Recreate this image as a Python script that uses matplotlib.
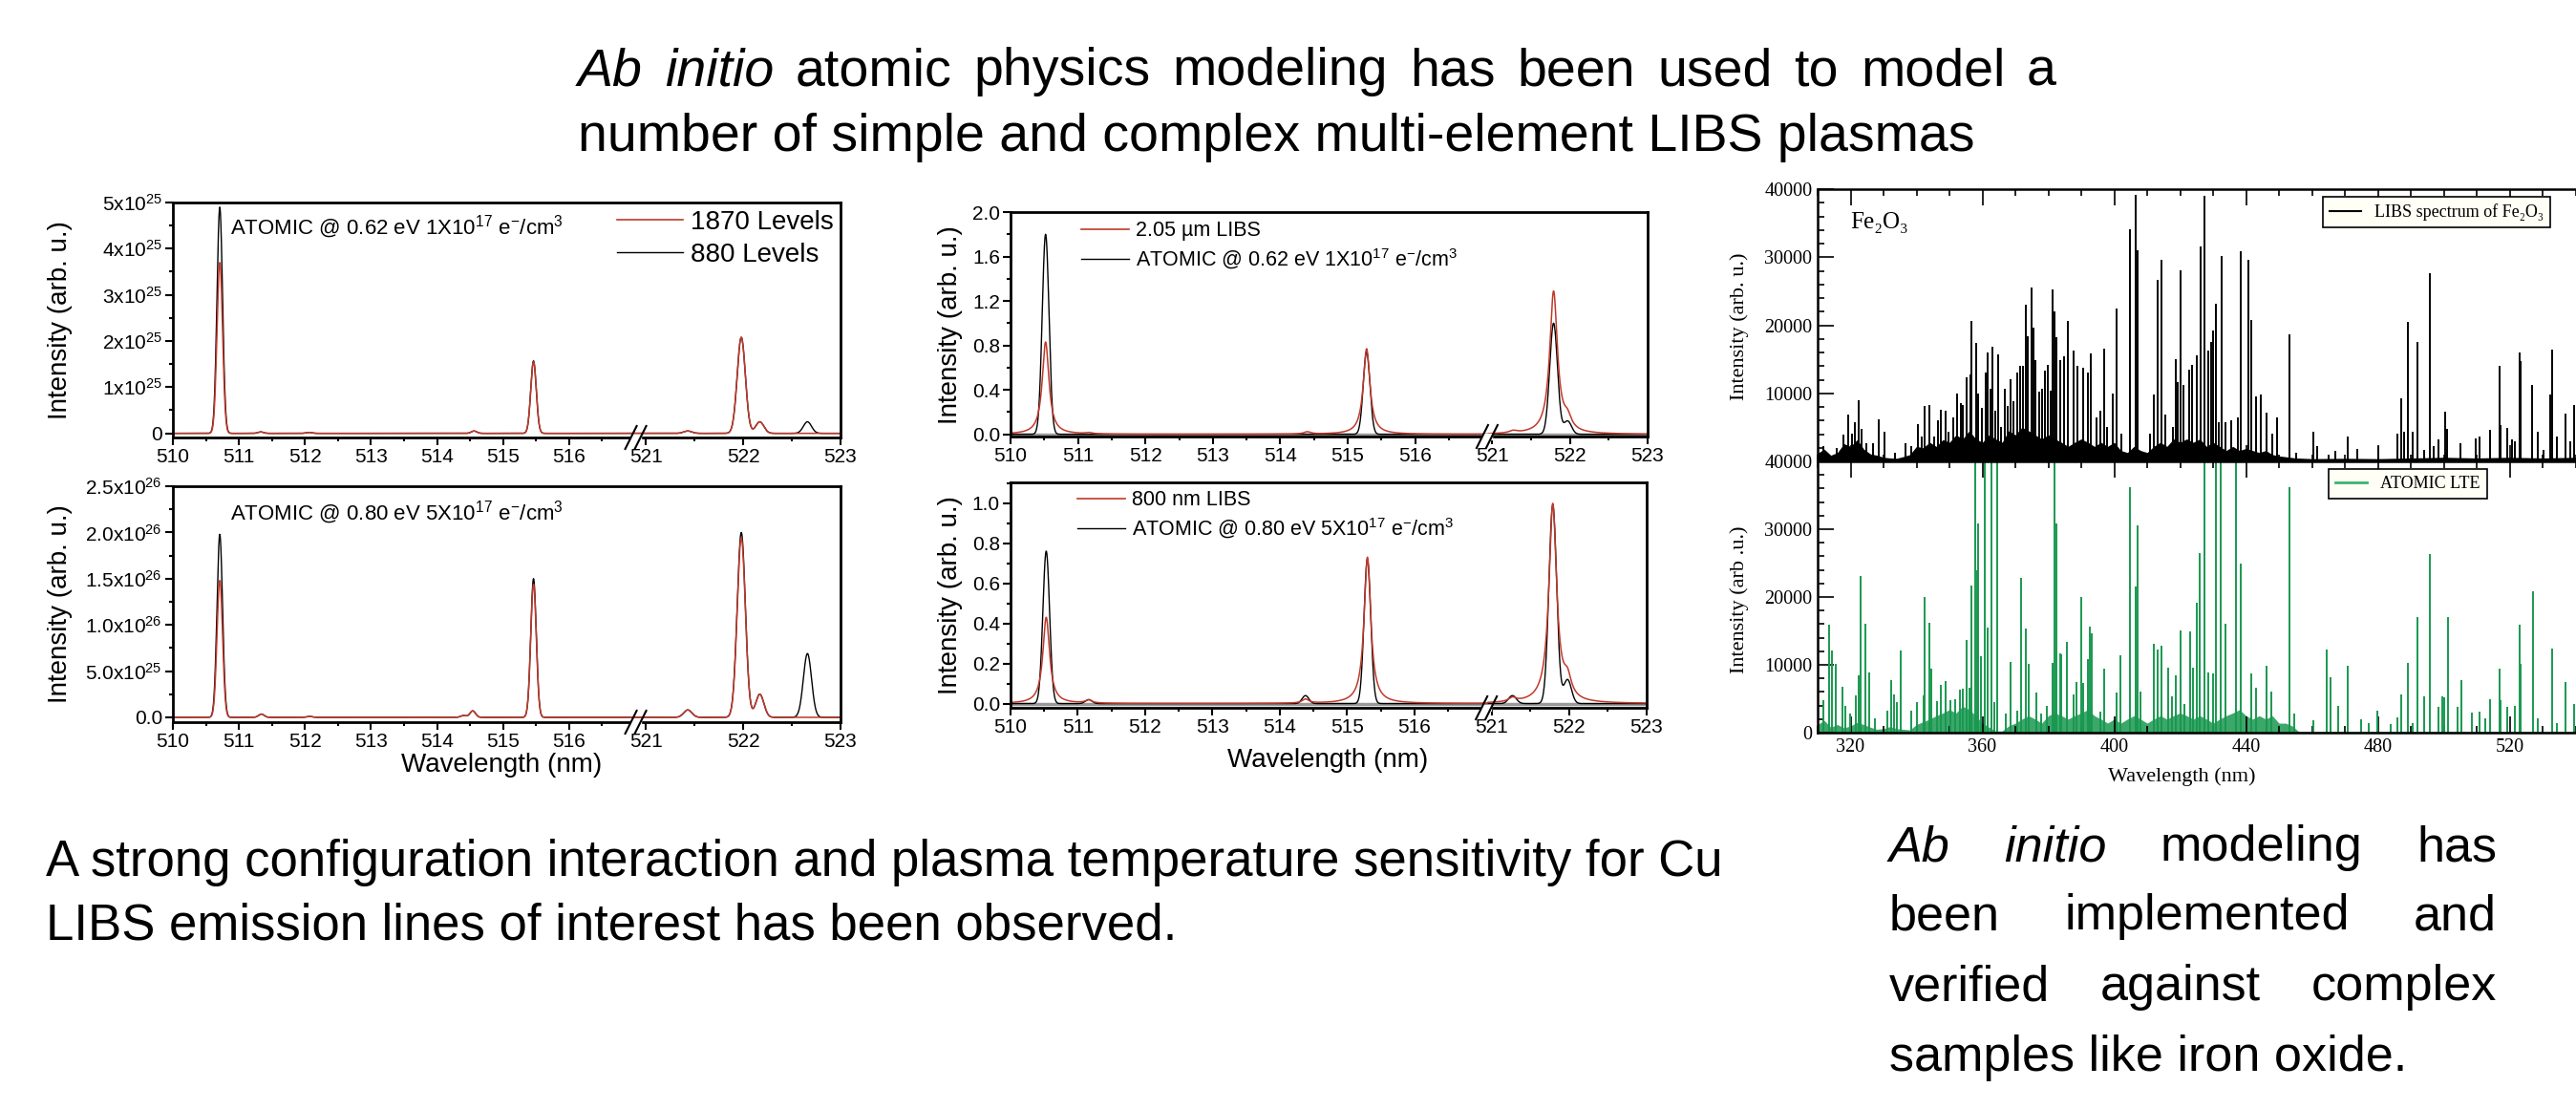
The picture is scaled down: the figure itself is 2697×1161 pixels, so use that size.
import numpy as np
import matplotlib
matplotlib.use("Agg")
import matplotlib.pyplot as plt
from matplotlib.lines import Line2D
from matplotlib.patches import Rectangle
from matplotlib.ticker import FixedLocator, MultipleLocator

plt.rcParams['font.family'] = ['Liberation Sans', 'DejaVu Sans']
plt.rcParams['mathtext.fontset'] = 'custom'
plt.rcParams['mathtext.rm'] = 'Liberation Sans'
plt.rcParams['mathtext.it'] = 'Liberation Sans:italic'
plt.rcParams['mathtext.default'] = 'regular'

# ---------------- data: Cu LIBS lines (peak centre nm, peak height) ----------------
# top-left, ATOMIC @ 0.62 eV, heights in 1e25
tl_wl = [510.71, 511.33, 512.06, 514.56, 515.46, 521.43, 521.98, 522.17, 522.66]
tl_1870 = [3.70, 0.03, 0.02, 0.05, 1.55, 0.05, 2.08, 0.25, 0.0]
tl_880 = [4.90, 0.03, 0.02, 0.05, 1.57, 0.05, 2.08, 0.25, 0.25]

# bottom-left, ATOMIC @ 0.80 eV, heights in 1e26
bl_wl = [510.71, 511.34, 512.07, 514.40, 514.54, 515.46, 521.43, 521.98, 522.17, 522.66]
bl_1870 = [1.48, 0.035, 0.01, 0.02, 0.07, 1.44, 0.08, 1.94, 0.25, 0.0]
bl_880 = [1.98, 0.035, 0.01, 0.02, 0.07, 1.50, 0.08, 2.00, 0.25, 0.69]

# top-middle, 2.05 um LIBS vs ATOMIC
mt_wl = [510.52, 511.16, 514.40, 515.28, 521.27, 521.79, 521.97]
mt_libs = [0.83, 0.01, 0.02, 0.77, 0.02, 1.28, 0.10]
mt_atom = [1.80, 0.0, 0.0, 0.74, 0.0, 1.00, 0.12]

# bottom-middle, 800 nm LIBS vs ATOMIC
mb_wl = [510.53, 511.16, 514.38, 515.30, 521.27, 521.79, 521.98]
mb_libs = [0.43, 0.015, 0.02, 0.73, 0.02, 0.99, 0.09]
mb_atom = [0.76, 0.02, 0.04, 0.72, 0.04, 0.99, 0.12]

wl_ticks = [510, 511, 512, 513, 514, 515, 516, 521, 522, 523]
wl_minor = [510.5, 511.5, 512.5, 513.5, 514.5, 515.5, 516.5, 521.5, 522.5]

# ---------------- data: Fe2O3 stick spectra (nm, counts) ----------------
libs_wl = [311.8, 315.7, 317.8, 319.3, 320.3, 321.3, 322.4, 323.4, 324.8, 326.7, 328.5, 330.3,
           333.5, 336.8, 338.3, 340.5, 341.6, 342.6, 343.8, 345.3, 346.4, 347.4, 348.7, 349.8,
           351.3, 352.4, 353.4, 354.1, 355.3, 356.3, 356.8, 358.0, 358.8, 359.9, 360.9, 361.6,
           362.6, 363.0, 364.0, 364.7, 365.7, 366.9, 367.8, 368.6, 369.5, 370.5, 371.4, 372.4,
           373.2, 373.9, 374.8, 375.6, 376.2, 377.2, 378.2, 378.9, 379.9, 380.6, 381.3, 382.0,
           382.5, 383.5, 384.7, 385.9, 387.6, 388.8, 390.5, 392.1, 392.9, 394.6, 395.8, 397.0,
           397.9, 399.7, 400.6, 402.1, 404.7, 406.4, 407.2, 410.8, 412.0, 413.2, 414.4, 415.6,
           417.8, 418.7, 419.3, 420.2, 421.1, 422.7, 423.6, 425.1, 426.2, 427.3, 428.5, 429.4,
           430.1, 430.9, 431.7, 432.6, 433.9, 435.4, 437.5, 438.5, 440.6, 441.7, 443.0, 444.6,
           446.2, 448.0, 449.4, 453.1, 455.2, 460.5, 461.5, 465.2, 467.1, 470.8, 473.7, 480.0,
           486.0, 487.2, 488.1, 489.1, 490.5, 492.0, 494.2, 495.9, 497.1, 498.5, 500.4, 501.1,
           505.0, 509.8, 510.8, 514.0, 516.9, 517.3, 519.3, 520.7, 521.7, 522.9, 523.3, 526.8,
           528.5, 530.4, 532.3, 532.8, 534.3, 537.1, 538.3, 539.6]
libs_h = [2200, 2000, 3900, 6900, 4100, 5700, 9000, 4800, 2700, 2700, 6200, 4300,
          1300, 2700, 2200, 5500, 3600, 8100, 8300, 3600, 6000, 7600, 7400, 4300,
          6400, 10000, 8600, 8300, 12300, 12800, 20700, 17400, 10000, 7900, 13000, 16000,
          10700, 16800, 7400, 15700, 5000, 10700, 8100, 12100, 8800, 13000, 14000, 14000,
          23000, 18400, 25500, 19600, 14900, 10200, 10700, 13300, 14200, 10400, 25200, 22000,
          18200, 14900, 15400, 20700, 16300, 14000, 13700, 13000, 15900, 6400, 7400, 16600,
          5000, 10000, 22400, 4100, 34100, 39200, 31000, 4100, 9800, 26600, 29600, 6900,
          5000, 15000, 11600, 28100, 11200, 13500, 14200, 15600, 31600, 39000, 16300, 17500,
          19200, 23200, 5700, 30200, 5700, 6000, 6400, 30900, 29600, 20800, 9500, 9800,
          7200, 4100, 6400, 18700, 1300, 4300, 2200, 1000, 1500, 3600, 1800, 2200,
          4100, 9300, 4300, 20500, 4300, 17600, 1700, 27600, 2200, 3200, 7300, 4800,
          2700, 3400, 3600, 4600, 14100, 5300, 4900, 3200, 2900, 16000, 14700, 11200,
          4300, 1700, 9800, 16400, 3600, 7000, 2900, 8300]

atomic_wl = [311.6, 313.6, 314.4, 315.4, 317.4, 318.4, 319.8, 321.7, 322.4, 323.0, 324.5, 325.7,
             327.5, 331.1, 332.3, 333.2, 334.1, 335.2, 338.3, 340.2, 342.3, 342.6, 343.8, 344.5,
             346.3, 347.4, 348.8, 350.3, 351.7, 353.2, 354.1, 355.3, 356.1, 356.7, 357.8, 358.3,
             358.8, 359.7, 360.7, 361.6, 362.8, 363.6, 364.5, 367.1, 368.6, 370.5, 371.7, 373.2,
             374.1, 376.3, 377.7, 379.6, 381.3, 381.8, 382.5, 383.5, 383.9, 385.7, 387.6, 388.6,
             390.0, 390.6, 391.9, 392.6, 393.2, 395.8, 397.0, 400.6, 401.8, 404.7, 406.4, 407.2,
             407.9, 412.0, 413.2, 414.4, 416.3, 417.5, 418.7, 420.2, 421.4, 423.0, 423.8, 425.1,
             426.0, 427.3, 428.5, 430.1, 430.9, 432.4, 433.9, 437.1, 438.5, 441.7, 443.0, 446.2,
             447.8, 453.3, 454.7, 460.5, 464.6, 465.7, 468.1, 470.8, 474.8, 477.2, 479.9, 484.0,
             485.9, 487.2, 489.1, 490.5, 492.0, 494.2, 495.9, 498.5, 499.5, 500.2, 501.2, 504.3,
             505.3, 508.5, 510.8, 512.5, 514.0, 516.9, 517.3, 519.3, 521.7, 522.9, 523.3, 527.0,
             528.5, 532.8, 534.3, 537.1, 539.6]
atomic_h = [4800, 15900, 12100, 10100, 6700, 4000, 2800, 5500, 8500, 23100, 16100, 8900,
            2100, 3300, 7700, 5600, 4500, 12100, 3300, 4500, 5500, 20000, 16200, 9400,
            4700, 7000, 7600, 4800, 4900, 6300, 6500, 13600, 6600, 21700, 45000, 23900,
            30800, 11300, 45000, 15500, 45000, 4500, 45000, 2800, 10400, 3300, 22800, 15400,
            10200, 5900, 2800, 4000, 10300, 45000, 30800, 11700, 11500, 13400, 5600, 7500,
            20000, 7300, 10800, 15600, 14600, 3100, 9400, 5900, 11400, 36200, 21600, 30500,
            6100, 13100, 12300, 12800, 9600, 5400, 8500, 15100, 4200, 15000, 9600, 19200,
            26500, 45000, 8900, 8800, 45000, 45000, 16100, 45000, 24900, 8800, 6600, 9900,
            6100, 36200, 2800, 1900, 12200, 8200, 4000, 9800, 2000, 1400, 3300, 1300,
            2300, 5600, 10300, 1400, 17000, 5400, 26400, 3800, 5400, 5200, 17000, 3800,
            7700, 2900, 3100, 2100, 4900, 9400, 4800, 3800, 4000, 15900, 10100, 20800,
            2100, 12400, 1400, 7500, 4200]

# dense low-level line "grass" under the sticks (envelope read every 2 nm)
libs_bg_wl = [310, 312, 314, 316, 318, 320, 322, 324, 326, 328, 330, 332, 334, 336, 338, 340,
              342, 344, 346, 348, 350, 352, 354, 356, 358, 360, 362, 364, 366, 368, 370, 372,
              374, 376, 378, 380, 382, 384, 386, 388, 390, 392, 394, 396, 398, 400, 402, 404,
              406, 408, 410, 412, 414, 416, 418, 420, 422, 424, 426, 428, 430, 432, 434, 436,
              438, 440, 442, 444, 446, 448, 450, 455, 460, 470, 480, 490, 500, 510, 520, 530, 540]
libs_bg_h = [1200, 1800, 900, 1300, 2600, 2200, 3200, 1800, 1100, 900, 600, 500, 450, 700, 1000, 2200,
             2000, 2800, 2200, 3200, 2800, 3900, 3300, 4500, 3300, 2800, 3900, 3300, 2800, 4500, 3900, 5000,
             4500, 3900, 3300, 3900, 3300, 2800, 2200, 2800, 3300, 2800, 2200, 2800, 2200, 2800, 1600, 1300,
             2200, 1600, 1300, 2200, 2800, 2200, 3300, 2800, 3300, 2800, 3300, 2200, 2800, 2200, 1600, 2200,
             1600, 1900, 1600, 1300, 1600, 1000, 800, 500, 400, 450, 400, 500, 600, 500, 600, 500, 600]
atomic_bg_wl = [310, 312, 314, 316, 318, 320, 322, 324, 326, 328, 330, 332, 334, 336, 338, 340,
                342, 344, 346, 348, 350, 352, 354, 356, 358, 360, 362, 364, 366, 368, 370, 372,
                374, 376, 378, 380, 382, 384, 386, 388, 390, 392, 394, 396, 398, 400, 402, 404,
                406, 408, 410, 412, 414, 416, 418, 420, 422, 424, 426, 428, 430, 432, 434, 436,
                438, 440, 442, 444, 446, 448, 450, 452, 454, 456, 540]
atomic_bg_h = [1200, 1800, 800, 1200, 700, 1000, 1500, 1200, 800, 500, 600, 900, 600, 500, 400, 1200,
               1600, 2000, 2500, 2900, 3400, 2900, 3900, 3400, 2500, 1400, 800, 250, 250, 1000, 1400, 2000,
               2500, 2000, 1400, 2500, 2900, 2500, 2000, 2500, 2900, 3400, 2500, 2000, 1400, 2000, 1400, 2000,
               2500, 2000, 1400, 2000, 2500, 2000, 2500, 2900, 2500, 2000, 2500, 2000, 1400, 2000, 2500, 2900,
               3400, 2500, 2000, 2500, 2000, 2500, 1400, 1400, 1000, 150, 150]

# ---------------- slide text ----------------
title_l1 = [("Ab", True), ("initio", True), ("atomic", False), ("physics", False), ("modeling", False),
            ("has", False), ("been", False), ("used", False), ("to", False), ("model", False), ("a", False)]
title_l2 = "number of simple and complex multi-element LIBS plasmas"
left_l1 = "A strong configuration interaction and plasma temperature sensitivity for Cu"
left_l2 = "LIBS emission lines of interest has been observed."
right_l1 = [("Ab", True), ("initio", True), ("modeling", False), ("has", False)]
right_l2 = [("been", False), ("implemented", False), ("and", False)]
right_l3 = [("verified", False), ("against", False), ("complex", False)]
right_l4 = "samples like iron oxide."

W, H = 2697, 1161
fig = plt.figure(figsize=(W / 100, H / 100), dpi=100)
RED = '#c0392b'
GREEN = '#1a9850'
SERIF = 'Liberation Serif'


def box(x0, y0, x1, y1):
    return [x0 / W, 1 - y1 / H, (x1 - x0) / W, (y1 - y0) / H]


def gauss(x, cs, hs, s):
    y = np.zeros_like(x)
    for c, h in zip(cs, hs):
        y += h * np.exp(-0.5 * ((x - c) / s) ** 2)
    return y


def lorentz(x, cs, hs, g):
    y = np.zeros_like(x)
    for c, h in zip(cs, hs):
        y += h * g ** 2 / ((x - c) ** 2 + g ** 2)
    return y


def cu_axes(px, kw, ku, ylim, yticks, ylabels, yminor):
    ax = fig.add_axes(box(*px))
    ax.set_xscale('function', functions=(lambda x: np.interp(x, kw, ku),
                                         lambda u: np.interp(u, ku, kw)))
    ax.set_xlim(510, 523)
    ax.set_ylim(*ylim)
    ax.xaxis.set_major_locator(FixedLocator(wl_ticks))
    ax.xaxis.set_minor_locator(FixedLocator(wl_minor))
    ax.set_xticklabels([str(t) for t in wl_ticks])
    ax.set_yticks(yticks)
    ax.set_yticklabels(ylabels)
    ax.yaxis.set_minor_locator(MultipleLocator(yminor))
    ax.tick_params(which='both', direction='out', labelsize=15, width=1.5, pad=2)
    ax.tick_params(which='major', length=6)
    ax.tick_params(which='minor', length=3)
    for s in ax.spines.values():
        s.set_linewidth(2)
    # axis break marks on the bottom spine
    xb = ax.transAxes.inverted().transform(ax.transData.transform((518.9, 0)))[0]
    wpx = px[2] - px[0]
    hpx = px[3] - px[1]
    ax.add_patch(Rectangle((xb - 5 / wpx, -3 / hpx), 10 / wpx, 6 / hpx, transform=ax.transAxes,
                           color='white', clip_on=False, zorder=4))
    for off in (-5, 5):
        ax.plot([xb + (off - 6) / wpx, xb + (off + 6) / wpx], [-12 / hpx, 12 / hpx],
                transform=ax.transAxes, color='k', lw=1.5, clip_on=False, zorder=5)
    return ax


x = np.linspace(510, 523, 8000)
sup_atomic1 = 'ATOMIC @ 0.62 eV 1X10$^{17}$ e$^{-}$/cm$^{3}$'
sup_atomic2 = 'ATOMIC @ 0.80 eV 5X10$^{17}$ e$^{-}$/cm$^{3}$'

# left column
kw_l, ku_l = [510, 517.0, 520.9, 523], [0, 7.0, 7.015, 10.108]
ax1 = cu_axes((181, 212, 880, 458), kw_l, ku_l, (-0.09, 5.0), [0, 1, 2, 3, 4, 5],
              ['0', '1x10$^{25}$', '2x10$^{25}$', '3x10$^{25}$', '4x10$^{25}$', '5x10$^{25}$'], 0.5)
ax1.plot(x, gauss(x, tl_wl, tl_880, 0.042), color='k', lw=1.0)
ax1.plot(x, gauss(x, tl_wl, tl_1870, 0.042), color=RED, lw=1.1)
fig.text(241 / W, 1 - 238 / H, sup_atomic1, fontsize=16, va='center')
ax1.legend(handles=[Line2D([], [], color=RED, lw=1.2), Line2D([], [], color='k', lw=1.0)],
           labels=['1870 Levels', '880 Levels'], loc='upper left', bbox_to_anchor=(640 / W, 1 - 214 / H),
           bbox_transform=fig.transFigure, frameon=False, fontsize=20, handlelength=2.5,
           handletextpad=0.3, labelspacing=0.3, borderaxespad=0, borderpad=0.2)

ax2 = cu_axes((181, 509, 880, 756), kw_l, ku_l, (-0.052, 2.5), [0, 0.5, 1.0, 1.5, 2.0, 2.5],
              ['0.0', '5.0x10$^{25}$', '1.0x10$^{26}$', '1.5x10$^{26}$', '2.0x10$^{26}$', '2.5x10$^{26}$'], 0.25)
ax2.plot(x, gauss(x, bl_wl, bl_880, 0.042), color='k', lw=1.0)
ax2.plot(x, gauss(x, bl_wl, bl_1870, 0.042), color=RED, lw=1.1)
fig.text(241 / W, 1 - 537 / H, sup_atomic2, fontsize=16, va='center')

# middle column
kw_m, ku_m = [510, 517.05, 520.95, 523], [0, 7.05, 7.085, 9.447]
ax3 = cu_axes((1058, 222, 1725, 457), kw_m, ku_m, (-0.02, 2.0), [0.0, 0.4, 0.8, 1.2, 1.6, 2.0],
              ['0.0', '0.4', '0.8', '1.2', '1.6', '2.0'], 0.2)
ax3.axhline(0, color='0.6', lw=2.5, zorder=1)
ax3.plot(x, gauss(x, mt_wl, mt_atom, 0.05), color='k', lw=1.0)
ax3.plot(x, lorentz(x, mt_wl, mt_libs, 0.06), color=RED, lw=1.1)
ax3.legend(handles=[Line2D([], [], color=RED, lw=1.2), Line2D([], [], color='k', lw=1.0)],
           labels=['2.05 \u00b5m LIBS', sup_atomic1], loc='upper left', bbox_to_anchor=(1128 / W, 1 - 227 / H),
           bbox_transform=fig.transFigure, frameon=False, fontsize=15.5, handlelength=2.3,
           handletextpad=0.35, labelspacing=0.3, borderaxespad=0, borderpad=0.2)

ax4 = cu_axes((1058, 505, 1724, 741), kw_m, ku_m, (-0.021, 1.103), [0.0, 0.2, 0.4, 0.6, 0.8, 1.0],
              ['0.0', '0.2', '0.4', '0.6', '0.8', '1.0'], 0.1)
ax4.axhline(0, color='0.6', lw=2.5, zorder=1)
ax4.plot(x, gauss(x, mb_wl, mb_atom, 0.05), color='k', lw=1.0)
ax4.plot(x, lorentz(x, mb_wl, mb_libs, 0.06), color=RED, lw=1.1)
ax4.legend(handles=[Line2D([], [], color=RED, lw=1.2), Line2D([], [], color='k', lw=1.0)],
           labels=['800 nm LIBS', sup_atomic2], loc='upper left', bbox_to_anchor=(1124 / W, 1 - 509 / H),
           bbox_transform=fig.transFigure, frameon=False, fontsize=15.5, handlelength=2.3,
           handletextpad=0.35, labelspacing=0.3, borderaxespad=0, borderpad=0.2)

for yc, xc in ((335, 63), (632, 63), (340, 995), (623, 995)):
    fig.text(xc / W, 1 - yc / H, 'Intensity (arb. u.)', fontsize=20, rotation=90, ha='center', va='center')
fig.text(525 / W, 1 - 801 / H, 'Wavelength (nm)', fontsize=20, ha='center', va='center')
fig.text(1390 / W, 1 - 796 / H, 'Wavelength (nm)', fontsize=20, ha='center', va='center')

# right column: Fe2O3
xr_max = 310 + (2727 - 1903) / 3.45


def fe_axes(px):
    ax = fig.add_axes(box(*px))
    ax.set_xlim(310, xr_max)
    ax.set_ylim(0, 40000)
    ax.xaxis.set_major_locator(MultipleLocator(40))
    ax.xaxis.set_minor_locator(MultipleLocator(10))
    ax.yaxis.set_minor_locator(MultipleLocator(2000))
    ax.tick_params(which='both', direction='in', top=True, right=False, labelsize=14.5,
                   labelfontfamily=SERIF, width=1.2, pad=4)
    ax.tick_params(which='major', length=12)
    ax.tick_params(which='minor', length=5)
    for s in ax.spines.values():
        s.set_linewidth(1.8)
    return ax


ax5 = fe_axes((1903, 198, 2727, 483))
ax5.fill_between(libs_bg_wl, libs_bg_h, color='k', lw=0)
ax5.vlines(libs_wl, 0, libs_h, color='k', lw=1.4)
ax5.set_yticks([0, 10000, 20000, 30000, 40000])
ax5.set_yticklabels(['', '10000', '20000', '30000', '40000'])
ax5.tick_params(axis='x', labelbottom=False)
ax5.text(1937 / W, 1 - 222 / H, 'Fe\u2082O\u2083', transform=fig.transFigure, fontsize=18,
         family=[SERIF, 'DejaVu Serif'], va='top')
leg = ax5.legend(handles=[Line2D([], [], color='k', lw=1.5)], labels=['LIBS spectrum of Fe\u2082O\u2083'],
                 loc='upper left', bbox_to_anchor=(2432 / W, 1 - 206 / H), bbox_transform=fig.transFigure,
                 prop={'family': [SERIF, 'DejaVu Serif'], 'size': 13}, fancybox=False, framealpha=1,
                 edgecolor='k', facecolor='#fffff6', borderaxespad=0, handlelength=1.8)
leg.get_frame().set_linewidth(1.2)

ax6 = fe_axes((1903, 483, 2727, 767))
ax6.fill_between(atomic_bg_wl, atomic_bg_h, color=GREEN, alpha=0.85, lw=0)
ax6.vlines(atomic_wl, 0, atomic_h, color=GREEN, lw=1.4)
ax6.set_yticks([0, 10000, 20000, 30000, 40000])
ax6.set_yticklabels(['0', '10000', '20000', '30000', '40000'])
leg = ax6.legend(handles=[Line2D([], [], color='#3cb371', lw=2)], labels=['ATOMIC LTE'],
                 loc='upper left', bbox_to_anchor=(2438 / W, 1 - 491 / H), bbox_transform=fig.transFigure,
                 prop={'family': [SERIF, 'DejaVu Serif'], 'size': 13}, fancybox=False, framealpha=1,
                 edgecolor='k', facecolor='#fffff6', borderaxespad=0, handlelength=1.8)
leg.get_frame().set_linewidth(1.2)

fig.text(1821 / W, 1 - 342 / H, 'Intensity (arb. u.)', fontsize=16, rotation=90, ha='center', va='center',
         family=SERIF)
fig.text(1821 / W, 1 - 628 / H, 'Intensity (arb .u.)', fontsize=16, rotation=90, ha='center', va='center',
         family=SERIF)
fig.text(2284 / W, 1 - 813 / H, 'Wavelength (nm)', fontsize=16, ha='center', va='center', family=SERIF)

# slide text, justified like the original
renderer = fig.canvas.get_renderer()


def justified(words, x0, x1, ybase, size):
    objs = [fig.text(0, 1 - ybase / H, w, fontsize=size, style='italic' if it else 'normal',
                     va='baseline') for w, it in words]
    widths = [o.get_window_extent(renderer).width for o in objs]
    gap = (x1 - x0 - sum(widths)) / (len(objs) - 1)
    xp = x0
    for o, w in zip(objs, widths):
        o.set_x(xp / W)
        xp += w + gap


justified(title_l1, 605, 2153, 89, 40)
fig.text(605 / W, 1 - 158 / H, title_l2, fontsize=40, va='baseline')
fig.text(48 / W, 1 - 917 / H, left_l1, fontsize=38, va='baseline')
fig.text(48 / W, 1 - 984 / H, left_l2, fontsize=38, va='baseline')
justified(right_l1, 1978, 2614, 901, 37.5)
justified(right_l2, 1978, 2614, 973, 37.5)
justified(right_l3, 1978, 2614, 1047, 37.5)
fig.text(1978 / W, 1 - 1121 / H, right_l4, fontsize=37.5, va='baseline')

fig.savefig('out.png', dpi=100)
